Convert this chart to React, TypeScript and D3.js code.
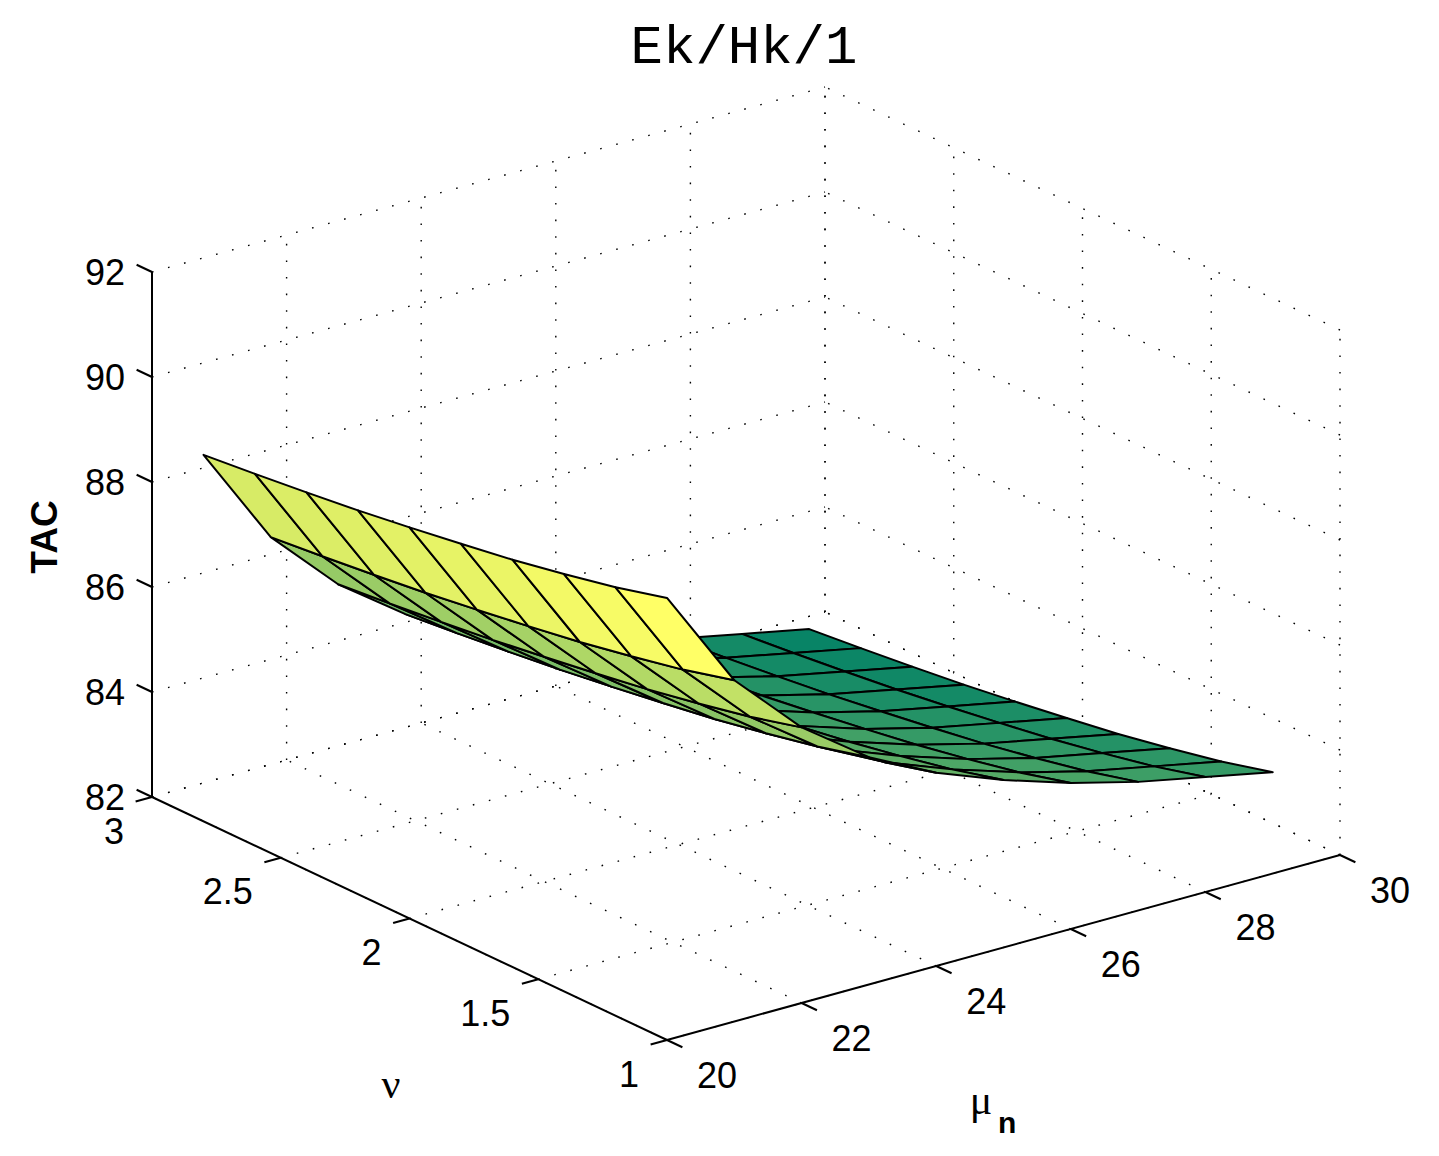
import React from 'react';
import * as d3 from 'd3';

// ---- data ----
const nuValues = [1.0, 1.2, 1.4, 1.6, 1.8, 2.0, 2.2, 2.4, 2.6, 2.8];
const muValues = [20, 21, 22, 23, 24, 25, 26, 27, 28, 29];
// TAC rows: one row per nu value, columns follow muValues
const tacRows = [
  [90.42, 88.50, 87.25, 86.33, 85.68, 85.19, 84.78, 84.45, 84.19, 83.93],
  [90.16, 88.24, 86.99, 86.07, 85.42, 84.93, 84.52, 84.19, 83.93, 83.67],
  [89.95, 88.03, 86.78, 85.86, 85.21, 84.72, 84.31, 83.98, 83.72, 83.46],
  [89.76, 87.84, 86.59, 85.67, 85.02, 84.53, 84.12, 83.79, 83.53, 83.27],
  [89.60, 87.68, 86.43, 85.51, 84.86, 84.37, 83.96, 83.63, 83.37, 83.11],
  [89.45, 87.53, 86.28, 85.36, 84.71, 84.22, 83.81, 83.48, 83.22, 82.96],
  [89.31, 87.39, 86.14, 85.22, 84.57, 84.08, 83.67, 83.34, 83.08, 82.82],
  [89.19, 87.27, 86.02, 85.10, 84.45, 83.96, 83.55, 83.22, 82.96, 82.70],
  [89.08, 87.16, 85.91, 84.99, 84.34, 83.85, 83.44, 83.11, 82.85, 82.59],
  [88.98, 87.06, 85.81, 84.89, 84.24, 83.75, 83.34, 83.01, 82.75, 82.49],
];
const nuTicks = [1, 1.5, 2, 2.5, 3];
const nuTickLabels = ['1', '1.5', '2', '2.5', '3'];
const muTicks = [20, 22, 24, 26, 28, 30];
const muTickLabels = ['20', '22', '24', '26', '28', '30'];
const zTicks = [82, 84, 86, 88, 90, 92];
const zTickLabels = ['82', '84', '86', '88', '90', '92'];
const titleText = 'Ek/Hk/1';
const zLabel = 'TAC';
const nuLabel = 'ν';
const muLabel = 'μ';
const muLabelSub = 'n';

// ---- layout ----
const W = 1439;
const H = 1156;
const origin = { x: 667, y: 1040 }; // (nu=1, mu=20, z=82)
const nuVec = { x: -515, y: -243 }; // nu 1 -> 3
const muVec = { x: 673, y: -185 }; // mu 20 -> 30
const zVec = { x: 0, y: -525 }; // z 82 -> 92
const depthW = { nu: 629.5, mu: 479.2, z: -202.7 };

const sNu = d3.scaleLinear().domain([1, 3]).range([0, 1]);
const sMu = d3.scaleLinear().domain([20, 30]).range([0, 1]);
const sZ = d3.scaleLinear().domain([82, 92]).range([0, 1]);

function proj(nu: number, mu: number, z: number): [number, number] {
  const p = sNu(nu), q = sMu(mu), r = sZ(z);
  return [
    origin.x + p * nuVec.x + q * muVec.x + r * zVec.x,
    origin.y + p * nuVec.y + q * muVec.y + r * zVec.y,
  ];
}
function depth(nu: number, mu: number, z: number) {
  return depthW.nu * sNu(nu) + depthW.mu * sMu(mu) + depthW.z * sZ(z);
}

const allZ = tacRows.flat();
const cMin = d3.min(allZ) as number;
const cMax = d3.max(allZ) as number;
const nColors = 64;
function summer(v: number) {
  let idx = Math.floor(((v - cMin) / (cMax - cMin)) * nColors);
  idx = Math.max(0, Math.min(nColors - 1, idx));
  const t = idx / (nColors - 1);
  return d3.rgb(t * 255, (0.5 + t / 2) * 255, 0.4 * 255).formatHex();
}

const lineGen = d3.line<[number, number]>().curve(d3.curveLinearClosed);

type Face = { d: string; depth: number; fill: string };
const faces: Face[] = [];
for (let i = 0; i < nuValues.length - 1; i++) {
  for (let j = 0; j < muValues.length - 1; j++) {
    const corners: [number, number, number][] = [
      [nuValues[i], muValues[j], tacRows[i][j]],
      [nuValues[i + 1], muValues[j], tacRows[i + 1][j]],
      [nuValues[i + 1], muValues[j + 1], tacRows[i + 1][j + 1]],
      [nuValues[i], muValues[j + 1], tacRows[i][j + 1]],
    ];
    const pts = corners.map(c => proj(c[0], c[1], c[2]));
    const dep = d3.mean(corners, c => depth(c[0], c[1], c[2])) as number;
    faces.push({ d: lineGen(pts) as string, depth: dep, fill: summer(tacRows[i][j]) });
  }
}
faces.sort((a, b) => b.depth - a.depth);

type Seg = [[number, number], [number, number]];
const gridSegs: Seg[] = [];
// floor z=82
muTicks.forEach(m => gridSegs.push([proj(1, m, 82), proj(3, m, 82)]));
nuTicks.forEach(n => gridSegs.push([proj(n, 20, 82), proj(n, 30, 82)]));
// wall nu=3
muTicks.forEach(m => gridSegs.push([proj(3, m, 82), proj(3, m, 92)]));
zTicks.forEach(z => gridSegs.push([proj(3, 20, z), proj(3, 30, z)]));
// wall mu=30
nuTicks.forEach(n => gridSegs.push([proj(n, 30, 82), proj(n, 30, 92)]));
zTicks.forEach(z => gridSegs.push([proj(1, 30, z), proj(3, 30, z)]));

const tickLen = 17;
function unit(v: { x: number; y: number }) {
  const l = Math.hypot(v.x, v.y);
  return { x: v.x / l, y: v.y / l };
}
const uNu = unit(nuVec);
const uMu = unit(muVec);

const tickFont = 'Liberation Sans, Arial, Helvetica, sans-serif';

export default function App() {
  const zAxisA = proj(3, 20, 82), zAxisB = proj(3, 20, 92);
  const nuAxisA = proj(1, 20, 82), nuAxisB = proj(3, 20, 82);
  const muAxisA = proj(1, 20, 82), muAxisB = proj(1, 30, 82);
  return (
    <svg width={W} height={H} style={{ position: 'absolute', left: 0, top: 0, background: '#fff' }}>
      <rect x={0} y={0} width={W} height={H} fill="#fff" />
      <g stroke="#000" strokeWidth={1.4} strokeDasharray="1.6 15" fill="none">
        {gridSegs.map((s, k) => (
          <line key={k} x1={s[0][0]} y1={s[0][1]} x2={s[1][0]} y2={s[1][1]} />
        ))}
      </g>
      <g stroke="#000" strokeWidth={2} strokeLinejoin="round">
        {faces.map((f, k) => (
          <path key={k} d={f.d} fill={f.fill} />
        ))}
      </g>
      <g stroke="#000" strokeWidth={2} fill="none">
        <line x1={zAxisA[0]} y1={zAxisA[1]} x2={zAxisB[0]} y2={zAxisB[1]} />
        <line x1={nuAxisA[0]} y1={nuAxisA[1]} x2={nuAxisB[0]} y2={nuAxisB[1]} />
        <line x1={muAxisA[0]} y1={muAxisA[1]} x2={muAxisB[0]} y2={muAxisB[1]} />
        {zTicks.map(z => {
          const [x, y] = proj(3, 20, z);
          return <line key={'zt' + z} x1={x} y1={y} x2={x + uNu.x * tickLen} y2={y + uNu.y * tickLen} />;
        })}
        {nuTicks.map(n => {
          const [x, y] = proj(n, 20, 82);
          return <line key={'nt' + n} x1={x} y1={y} x2={x - uMu.x * tickLen} y2={y - uMu.y * tickLen} />;
        })}
        {muTicks.map(m => {
          const [x, y] = proj(1, m, 82);
          return <line key={'mt' + m} x1={x} y1={y} x2={x - uNu.x * tickLen} y2={y - uNu.y * tickLen} />;
        })}
      </g>
      <g fontFamily={tickFont} fontSize={36} fill="#000">
        {zTicks.map((z, k) => {
          const [x, y] = proj(3, 20, z);
          return (
            <text key={'zl' + z} x={x - 27} y={y} textAnchor="end" dominantBaseline="central">
              {zTickLabels[k]}
            </text>
          );
        })}
        {nuTicks.map((n, k) => {
          const [x, y] = proj(n, 20, 82);
          return (
            <text key={'nl' + n} x={x - 28} y={y + 34} textAnchor="end" dominantBaseline="central">
              {nuTickLabels[k]}
            </text>
          );
        })}
        {muTicks.map((m, k) => {
          const [x, y] = proj(1, m, 82);
          return (
            <text key={'ml' + m} x={x + 30} y={y + 35} textAnchor="start" dominantBaseline="central">
              {muTickLabels[k]}
            </text>
          );
        })}
      </g>
      <text
        x={744}
        y={63}
        textAnchor="middle"
        fontFamily="Liberation Mono, Courier New, monospace"
        fontSize={54}
        fill="#000"
      >
        {titleText}
      </text>
      <text
        transform="translate(57,537) rotate(-90)"
        textAnchor="middle"
        fontFamily={tickFont}
        fontWeight="bold"
        fontSize={37}
        fill="#000"
      >
        {zLabel}
      </text>
      <text x={391} y={1098} textAnchor="middle" fontFamily="Liberation Serif, Times New Roman, serif" fontSize={42} fill="#000">
        {nuLabel}
      </text>
      <text x={981} y={1114} textAnchor="middle" fontFamily="Liberation Serif, Times New Roman, serif" fontSize={42} fill="#000">
        {muLabel}
      </text>
      <text x={998} y={1133} textAnchor="start" fontFamily={tickFont} fontWeight="bold" fontSize={30} fill="#000">
        {muLabelSub}
      </text>
    </svg>
  );
}
